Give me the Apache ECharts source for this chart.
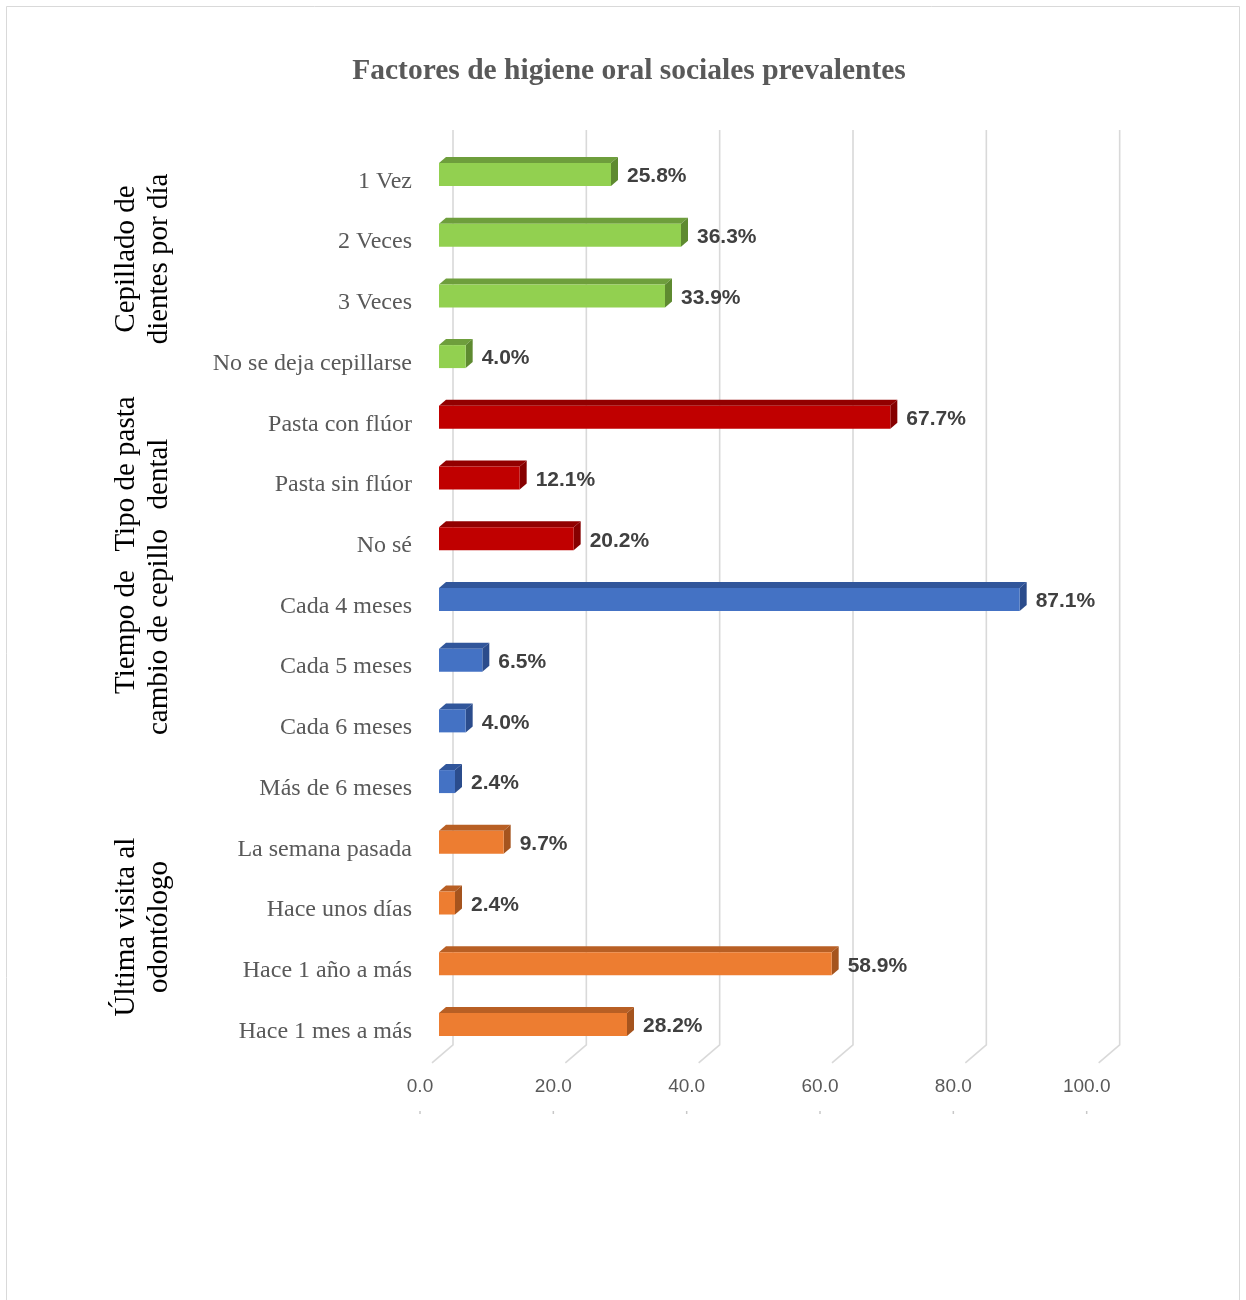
<!DOCTYPE html>
<html>
<head>
<meta charset="utf-8">
<script src="https://cdn.jsdelivr.net/npm/echarts@6/dist/echarts.min.js"></script>
<style>
html,body{margin:0;padding:0;background:#fff;}
#chart{width:1246px;height:1300px;}
</style>
</head>
<body>
<div id="chart"></div>
<script>
const categories = ['1 Vez','2 Veces','3 Veces','No se deja cepillarse','Pasta con flúor','Pasta sin flúor','No sé','Cada 4 meses','Cada 5 meses','Cada 6 meses','Más de 6 meses','La semana pasada','Hace unos días','Hace 1 año a más','Hace 1 mes a más'];
const values = [25.8,36.3,33.9,4.0,67.7,12.1,20.2,87.1,6.5,4.0,2.4,9.7,2.4,58.9,28.2];
const groupOf = [0,0,0,0,1,1,1,2,2,2,2,3,3,3,3];
const groupLabels = ['Cepillado de\ndientes por día','Tipo de pasta\ndental','Tiempo de\ncambio de cepillo','Última visita al\nodontólogo'];
const xTicks = [0,20,40,60,80,100];
const titleText = 'Factores de higiene oral sociales prevalentes';

const palette = [
  {front:'#92D050', top:'#6E9E3C', side:'#5E8A30'},
  {front:'#C00000', top:'#920000', side:'#860000'},
  {front:'#4472C4', top:'#31569B', side:'#2B4C8C'},
  {front:'#ED7D31', top:'#B85F24', side:'#A5541E'}
];

const chart = echarts.init(document.getElementById('chart'), null, {renderer:'canvas'});
const DX = 7, DY = 6, FACE_H = 23;

function renderBar(params, api){
  const v = api.value(0), idx = api.value(1);
  const p0 = api.coord([0, idx]);
  const p1 = api.coord([v, idx]);
  const cy = p0[1];
  const x0 = p0[0], x1 = p1[0];
  const top = cy - FACE_H/2, bot = cy + FACE_H/2;
  const c = palette[groupOf[idx]];
  return {
    type:'group',
    children:[
      {type:'polygon', shape:{points:[[x0,top],[x0+DX,top-DY],[x1+DX,top-DY],[x1,top]]}, style:{fill:c.top}},
      {type:'polygon', shape:{points:[[x1,top],[x1+DX,top-DY],[x1+DX,bot-DY],[x1,bot]]}, style:{fill:c.side}},
      {type:'rect', shape:{x:x0, y:top, width:x1-x0, height:FACE_H}, style:{fill:c.front}},
      {type:'text', x:x1+DX+9, y:cy+2, style:{text:v.toFixed(1)+'%', fill:'#404040', font:'bold 21px "Liberation Sans", Arial, sans-serif', align:'left', verticalAlign:'middle'}}
    ]
  };
}

function renderGrid(params, api){
  const v = api.value(0);
  const p = api.coord([v, 0]);
  const cs = params.coordSys;
  const xb = p[0] + 14;
  const yTop = cs.y - 14;
  const yBack = cs.y + cs.height - 10;
  const children = [
    {type:'polyline', shape:{points:[[xb,yTop],[xb,yBack],[xb-21,yBack+18]]}, style:{stroke:'#D9D9D9', lineWidth:1.6, fill:null}},
    {type:'line', shape:{x1:p[0]-19, y1:1111, x2:p[0]-19, y2:1114}, style:{stroke:'#C8C8C8', lineWidth:1.5}}
  ];
  return {type:'group', children};
}

const option = {
  animation:false,
  backgroundColor:'#ffffff',
  title:{
    text:titleText, left:624, top:51, textAlign:'center',
    textStyle:{fontFamily:'"Liberation Serif", "Times New Roman", serif', fontWeight:'bold', fontSize:29.5, color:'#595959'}
  },
  grid:{left:439, top:144.1, width:666.67, height:910.7},
  xAxis:{
    type:'value', min:0, max:100, interval:20,
    axisLine:{show:false}, axisTick:{show:false}, splitLine:{show:false},
    axisLabel:{margin:22, formatter:v=>v.toFixed(1), color:'#595959', fontSize:19, fontFamily:'"Liberation Sans", Arial, sans-serif', padding:[0,38,0,0]}
  },
  yAxis:{
    type:'category', data:categories, inverse:true,
    axisLine:{show:false}, axisTick:{show:false}, splitLine:{show:false},
    axisLabel:{margin:27, color:'#595959', fontSize:24, fontFamily:'"Liberation Serif", "Times New Roman", serif', verticalAlign:'top', lineHeight:14}
  },
  graphic:[
    {type:'rect', shape:{x:6.5, y:6.5, width:1233, height:1300}, style:{fill:null, stroke:'#D9D9D9', lineWidth:1}, z:-10},
    {type:'text', x:143, y:259, rotation:Math.PI/2, style:{text:groupLabels[0], font:'29px "Liberation Serif", "Times New Roman", serif', fill:'#000', align:'center', verticalAlign:'middle', lineHeight:33}},
    {type:'text', x:143, y:474, rotation:Math.PI/2, style:{text:groupLabels[1], font:'29px "Liberation Serif", "Times New Roman", serif', fill:'#000', align:'center', verticalAlign:'middle', lineHeight:33}},
    {type:'text', x:143, y:632, rotation:Math.PI/2, style:{text:groupLabels[2], font:'29px "Liberation Serif", "Times New Roman", serif', fill:'#000', align:'center', verticalAlign:'middle', lineHeight:33}},
    {type:'text', x:143, y:927, rotation:Math.PI/2, style:{text:groupLabels[3], font:'29px "Liberation Serif", "Times New Roman", serif', fill:'#000', align:'center', verticalAlign:'middle', lineHeight:33}}
  ],
  series:[
    {type:'custom', renderItem:renderGrid, data:xTicks.map(v=>[v,0]), encode:{x:0,y:1}, z:1, silent:true},
    {type:'custom', renderItem:renderBar, data:values.map((v,i)=>[v,i]), encode:{x:0,y:1}, z:5}
  ]
};
chart.setOption(option);
</script>
</body>
</html>
